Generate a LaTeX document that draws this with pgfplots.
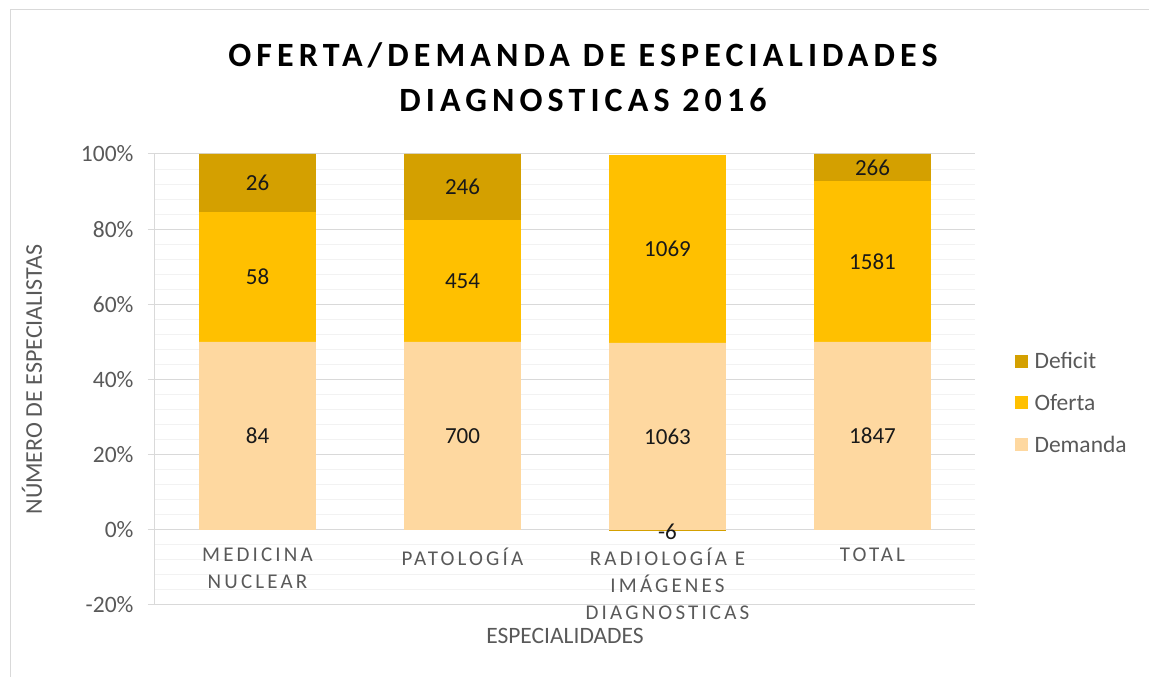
\documentclass[border=0pt]{standalone}
\usepackage{pgfplots}
\pgfplotsset{compat=1.18}
\usepackage{fontspec}
\setmainfont{Carlito}
\newfontfamily\spaced[LetterSpace=15]{Carlito}
\newfontfamily\titlefont[LetterSpace=15]{Carlito}
\definecolor{deficit}{RGB}{212,160,0}
\definecolor{oferta}{RGB}{255,192,0}
\definecolor{demanda}{RGB}{254,216,160}
\definecolor{txt}{RGB}{89,89,89}
\definecolor{gridmaj}{RGB}{217,217,217}
\definecolor{gridmin}{RGB}{242,242,242}
\begin{document}
\begin{tikzpicture}
\useasboundingbox (0,0) rectangle (1149pt,677pt);
\draw[gridmaj, line width=1pt] (10pt,-5pt) -- (10pt,667pt) -- (1160pt,667pt);
\node[align=center, font=\titlefont\bfseries\fontsize{34}{45}\selectfont, text=black] at (583pt,600pt) {OFERTA/DEMANDA DE ESPECIALIDADES\\DIAGNOSTICAS 2016};
\begin{axis}[
  at={(155pt,72pt)}, anchor=south west,
  scale only axis, width=820pt, height=451pt,
  xmin=-0.5, xmax=3.5, ymin=-20, ymax=100,
  axis lines=left,
  axis line style={-},
  x axis line style={draw=none},
  y axis line style={draw=gridmaj, line width=1pt},
  xtick={0,1,2,3},
  xticklabels={MEDICINA\\NUCLEAR, PATOLOGÍA, RADIOLOGÍA E\\IMÁGENES\\DIAGNOSTICAS, TOTAL},
  xtick style={draw=none},
  xticklabel style={align=center, anchor=north, yshift=75pt-7pt, text=txt, font=\spaced\fontsize{21}{27}\selectfont},
  ytick={-20,0,20,40,60,80,100},
  yticklabels={-20\%,0\%,20\%,40\%,60\%,80\%,100\%},
  yticklabel style={text=txt, xshift=-11pt, font=\fontsize{23.5}{26}\selectfont},
  ytick style={draw=gridmaj, line width=1pt},
  tick align=outside, major tick length=7pt,
  minor y tick num=4, minor tick length=0pt,
  ymajorgrids, yminorgrids,
  major grid style={draw=gridmaj, line width=1pt},
  minor grid style={draw=gridmin, line width=1pt},
  ybar stacked, bar width=0.57,
  ylabel={NÚMERO DE ESPECIALISTAS},
  ylabel style={at={(axis description cs:-0.150,0.5)}, anchor=center, rotate=0, text=txt, font=\fontsize{24}{26}\selectfont},
  xlabel={ESPECIALIDADES},
  xlabel style={at={(axis description cs:0.5,-0.069)}, anchor=center, text=txt, font=\fontsize{23.5}{26}\selectfont},
  point meta=explicit symbolic,
  nodes near coords,
  every node near coord/.append style={anchor=center, text=black!90, font=\fontsize{23}{25}\selectfont},
  legend style={at={(1.048,0.448)}, anchor=west, draw=none, fill=none, font=\fontsize{23.5}{26}\selectfont, text=txt, row sep=20pt, inner sep=0pt, nodes={inner xsep=7pt}},
  legend cell align=left,
  reverse legend,
  legend image code/.code={\fill[#1, draw=none] (0pt,-6.5pt) rectangle (13pt,6.5pt);},
]
\addplot[fill=demanda, draw=none] coordinates {(0,50)[84] (1,50)[700] (2,49.719)[1063] (3,50)[1847]};
\addplot[fill=oferta, draw=none] coordinates {(0,34.524)[58] (1,32.429)[454] (2,50.000)[1069] (3,42.799)[1581]};
\addplot[fill=deficit, draw=none] coordinates {(0,15.476)[26] (1,17.571)[246] (2,0)[{}] (3,7.201)[266]};
\legend{Demanda, Oferta, Deficit}
\end{axis}
\begin{axis}[
  at={(155pt,72pt)}, anchor=south west,
  scale only axis, width=820pt, height=451pt,
  xmin=-0.5, xmax=3.5, ymin=-20, ymax=100,
  hide axis,
  ybar, bar width=0.57, bar shift=0pt,
  point meta=explicit symbolic,
  nodes near coords,
  every node near coord/.append style={anchor=center, yshift=-1pt, text=black!90, font=\fontsize{23}{25}\selectfont},
]
\addplot[fill=deficit, draw=none] coordinates {(2,-0.281)[-6]};
\end{axis}
\end{tikzpicture}
\end{document}
